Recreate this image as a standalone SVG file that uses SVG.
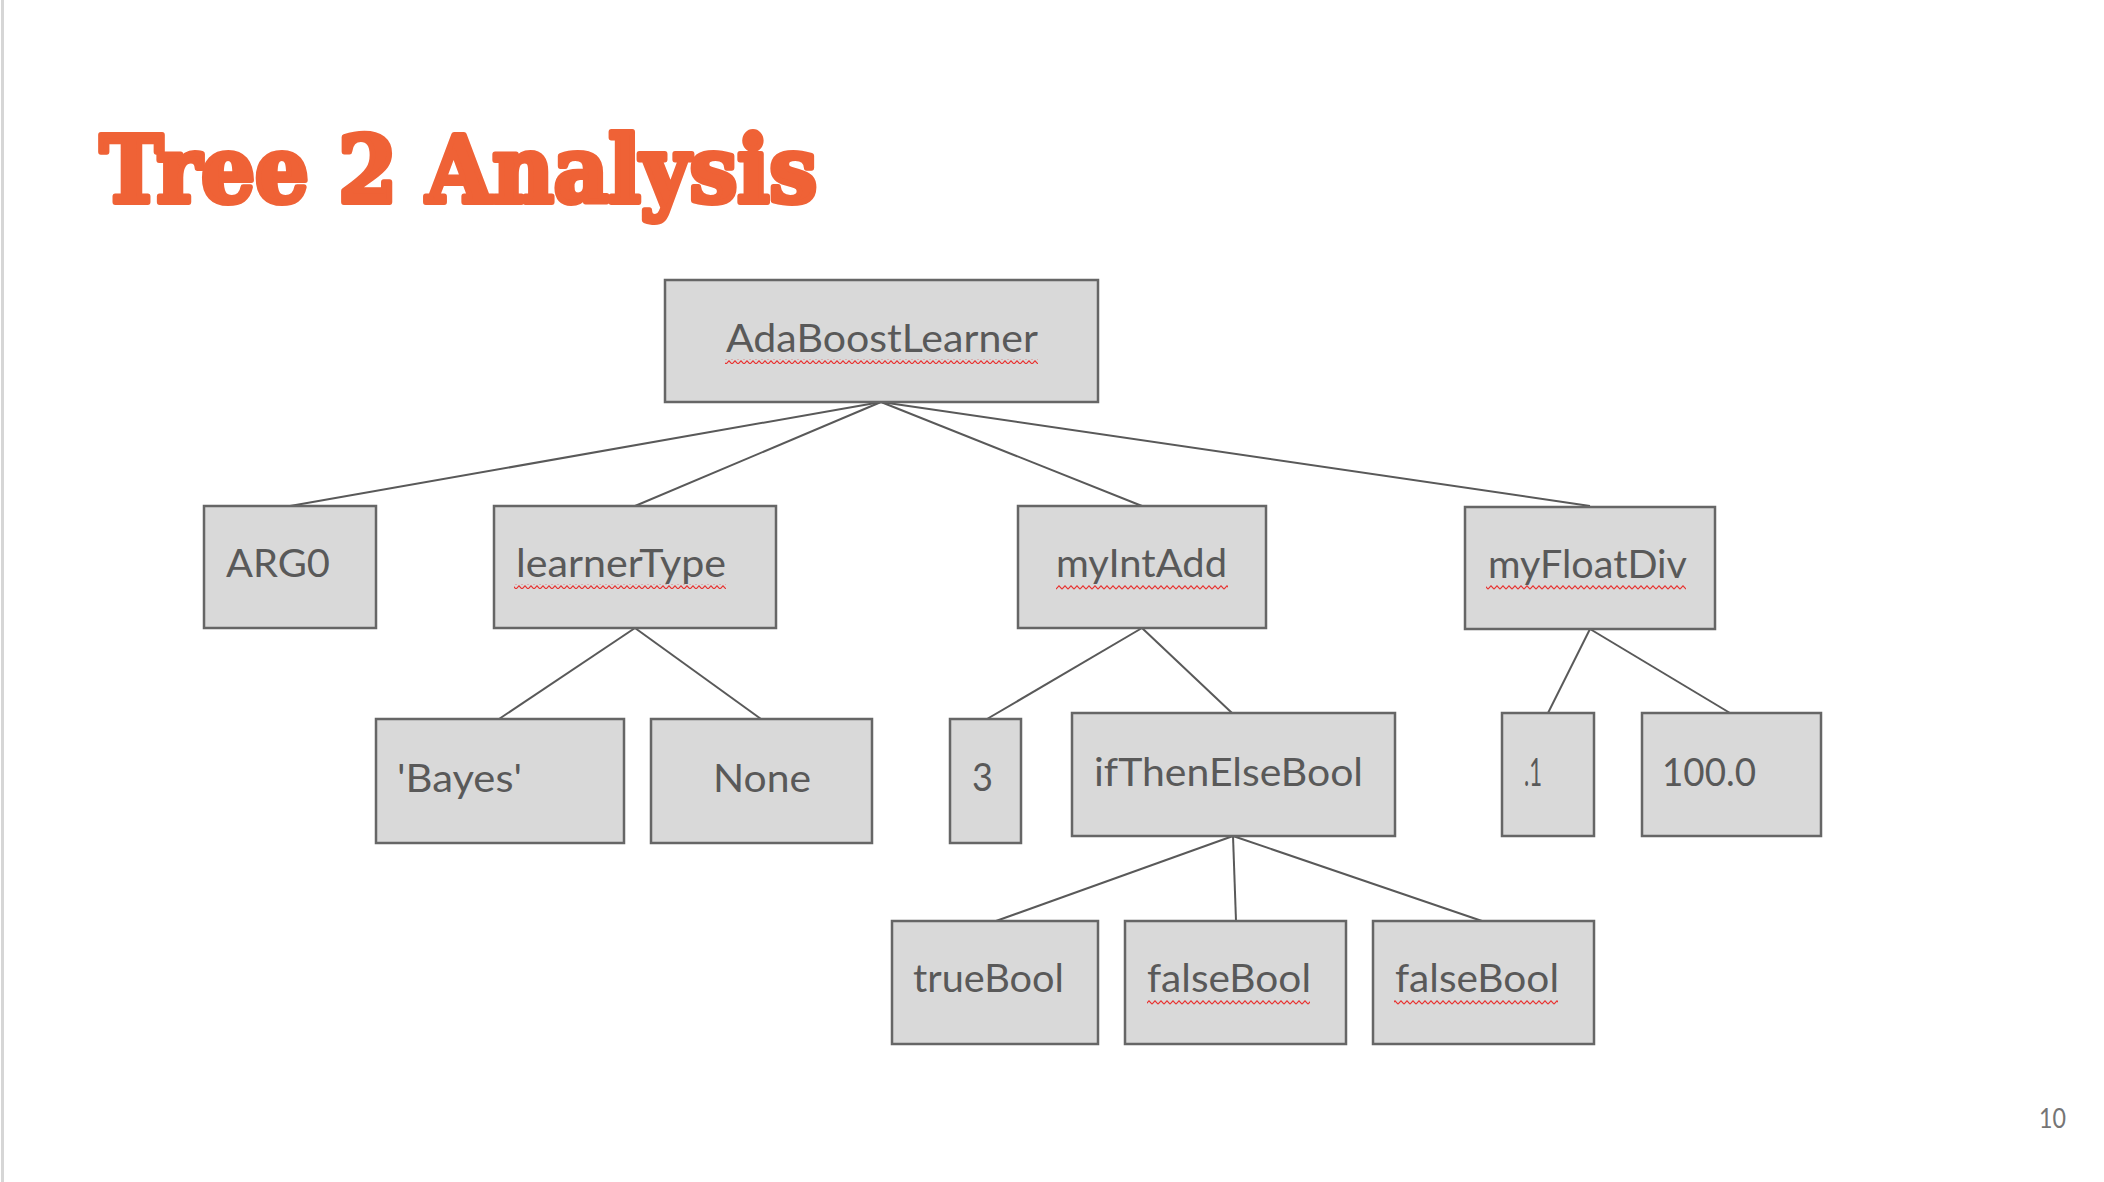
<svg xmlns="http://www.w3.org/2000/svg" width="2104" height="1182" viewBox="0 0 2104 1182">
<style>
.box{fill:#d9d9d9;stroke:#666666;stroke-width:2.5}
.lbl{font-family:Lato,"Open Sans","Liberation Sans",sans-serif;font-size:38px;fill:#595959}
.edge{stroke:#595959;stroke-width:2;fill:none}
.sq{fill:url(#squiggle)}
.title{font-family:"DejaVu Serif","Liberation Serif",serif;font-weight:bold;font-size:91px;fill:#ef6236;stroke:#ef6236;stroke-width:6;stroke-linejoin:round}
</style>
<defs>
<pattern id="squiggle" x="0" y="0" width="6" height="5" patternUnits="userSpaceOnUse">
<path d="M0 4.2 L3 0.8 L6 4.2" stroke="#e8312f" stroke-width="1.1" fill="none"/>
</pattern>
</defs>
<rect x="0" y="0" width="2104" height="1182" fill="#ffffff"/>
<rect x="1" y="0" width="3" height="1182" fill="#d6d6d6"/>
<text class="title" x="100" y="202" textLength="717" lengthAdjust="spacingAndGlyphs">Tree 2 Analysis</text>
<g id="connectors">
<line class="edge" x1="881" y1="402" x2="290" y2="506"/>
<line class="edge" x1="881" y1="402" x2="635" y2="506"/>
<line class="edge" x1="881" y1="402" x2="1142" y2="506"/>
<line class="edge" x1="881" y1="402" x2="1590" y2="506"/>
<line class="edge" x1="635" y1="628" x2="499" y2="719"/>
<line class="edge" x1="635" y1="628" x2="761" y2="719"/>
<line class="edge" x1="1142" y1="628" x2="987" y2="719"/>
<line class="edge" x1="1142" y1="628" x2="1232" y2="713"/>
<line class="edge" x1="1590" y1="629" x2="1548" y2="713"/>
<line class="edge" x1="1590" y1="629" x2="1730" y2="713"/>
<line class="edge" x1="1233" y1="836" x2="996" y2="921"/>
<line class="edge" x1="1233" y1="836" x2="1236" y2="921"/>
<line class="edge" x1="1233" y1="836" x2="1482" y2="921"/>
</g>
<g id="n-adaboost">
<rect class="box" x="665" y="280" width="433" height="122"/>
<text class="lbl" x="726" y="352" textLength="312" lengthAdjust="spacingAndGlyphs">AdaBoostLearner</text>
<rect class="sq" x="725" y="359" width="313" height="5"/>
</g>
<g id="n-arg0">
<rect class="box" x="204" y="506" width="172" height="122"/>
<text class="lbl" x="226" y="577" textLength="104" lengthAdjust="spacingAndGlyphs">ARG0</text>
</g>
<g id="n-learnertype">
<rect class="box" x="494" y="506" width="282" height="122"/>
<text class="lbl" x="516" y="577" textLength="210" lengthAdjust="spacingAndGlyphs">learnerType</text>
<rect class="sq" x="514" y="584" width="212" height="5"/>
</g>
<g id="n-myintadd">
<rect class="box" x="1018" y="506" width="248" height="122"/>
<text class="lbl" x="1056" y="577" textLength="171" lengthAdjust="spacingAndGlyphs">myIntAdd</text>
<rect class="sq" x="1056" y="585" width="172" height="5"/>
</g>
<g id="n-myfloatdiv">
<rect class="box" x="1465" y="507" width="250" height="122"/>
<text class="lbl" x="1488" y="578" textLength="199" lengthAdjust="spacingAndGlyphs">myFloatDiv</text>
<rect class="sq" x="1486" y="585" width="200" height="5"/>
</g>
<g id="n-bayes">
<rect class="box" x="376" y="719" width="248" height="124"/>
<text class="lbl" x="397" y="792" textLength="125" lengthAdjust="spacingAndGlyphs">'Bayes'</text>
</g>
<g id="n-none">
<rect class="box" x="651" y="719" width="221" height="124"/>
<text class="lbl" x="713" y="792" textLength="98" lengthAdjust="spacingAndGlyphs">None</text>
</g>
<g id="n-3">
<rect class="box" x="950" y="719" width="71" height="124"/>
<text class="lbl" x="972" y="791" textLength="21" lengthAdjust="spacingAndGlyphs">3</text>
</g>
<g id="n-ifthenelse">
<rect class="box" x="1072" y="713" width="323" height="123"/>
<text class="lbl" x="1094" y="786" textLength="269" lengthAdjust="spacingAndGlyphs">ifThenElseBool</text>
</g>
<g id="n-point1">
<rect class="box" x="1502" y="713" width="92" height="123"/>
<text class="lbl" x="1524" y="786" textLength="18" lengthAdjust="spacingAndGlyphs">.1</text>
</g>
<g id="n-100">
<rect class="box" x="1642" y="713" width="179" height="123"/>
<text class="lbl" x="1662" y="786" textLength="94" lengthAdjust="spacingAndGlyphs">100.0</text>
</g>
<g id="n-truebool">
<rect class="box" x="892" y="921" width="206" height="123"/>
<text class="lbl" x="913" y="992" textLength="151" lengthAdjust="spacingAndGlyphs">trueBool</text>
</g>
<g id="n-falsebool1">
<rect class="box" x="1125" y="921" width="221" height="123"/>
<text class="lbl" x="1147" y="992" textLength="164" lengthAdjust="spacingAndGlyphs">falseBool</text>
<rect class="sq" x="1147" y="1000" width="163" height="5"/>
</g>
<g id="n-falsebool2">
<rect class="box" x="1373" y="921" width="221" height="123"/>
<text class="lbl" x="1395" y="992" textLength="164" lengthAdjust="spacingAndGlyphs">falseBool</text>
<rect class="sq" x="1394" y="1000" width="164" height="5"/>
</g>
<text x="2039" y="1128" font-family="Lato,'Liberation Sans',sans-serif" font-size="26" fill="#757575" textLength="27" lengthAdjust="spacingAndGlyphs">10</text>
</svg>
